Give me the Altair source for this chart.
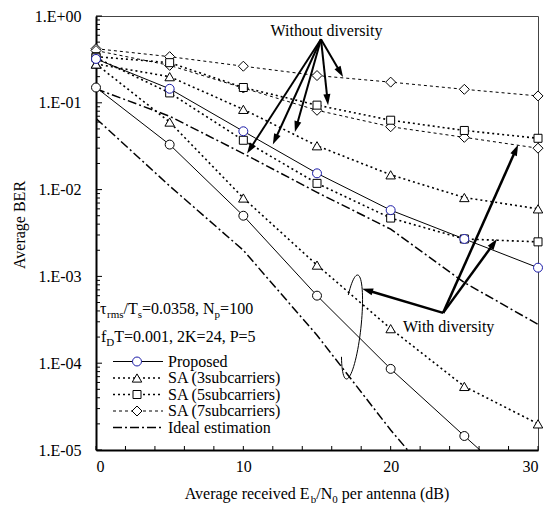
import math
import altair as alt
import pandas as pd

# ---------------- data ----------------
SNR = [0, 5, 10, 15, 20, 25, 30]
PROPOSED_WO = [0.32, 0.145, 0.047, 0.0154, 0.0058, 0.0027, 0.00126]
PROPOSED_WD = [0.15, 0.033, 0.005, 0.0006, 8.6e-5, 1.45e-5, 2.5e-6]
SA3_WO = [0.28, 0.20, 0.084, 0.032, 0.0148, 0.0081, 0.0060]
SA3_WD = [0.28, 0.060, 0.0080, 0.00135, 0.00025, 5.4e-5, 2.0e-5]
SA5_WO = [0.34, 0.29, 0.15, 0.094, 0.063, 0.048, 0.039]
SA5_WD = [0.33, 0.13, 0.037, 0.0118, 0.0047, 0.0027, 0.0025]
SA7_WO = [0.42, 0.34, 0.264, 0.206, 0.173, 0.143, 0.12]
SA7_WD = [0.40, 0.27, 0.148, 0.082, 0.053, 0.040, 0.030]
IDEAL_WO = [0.145, 0.07, 0.026, 0.0093, 0.0035, 0.00085, 0.00028]
IDEAL_WD = [0.066, 0.011, 0.002, 0.00021, 1.7e-5, 1.7e-6, 1.7e-7]

LEGEND_LABELS = ["Proposed", "SA (3subcarriers)", "SA (5subcarriers)",
                 "SA (7subcarriers)", "Ideal estimation"]
X_LABEL_VALUES = [0, 10, 20, 30]
X_TICK_VALUES = list(range(0, 31, 2))
Y_DECADES = [1, 1e-1, 1e-2, 1e-3, 1e-4, 1e-5]
Y_MINOR = [k * 10.0 ** e for e in range(-5, 0) for k in range(2, 10)]

# annotation anchor points (data coordinates)
WO_ORIGIN = (15.27, 0.54)
WO_TIPS = [(10.25, 0.026), (12.0, 0.033), (13.5, 0.046), (15.75, 0.094), (16.77, 0.198)]
WD_ORIGIN = (23.56, 3.8e-4)
WD_TIPS = [(18.06, 7.2e-4), (28.65, 0.0329), (27.22, 0.0027)]

# ---------------- layout / style ----------------
FONT = "Liberation Serif"
W, H = 442, 434
XDOM = [0, 30]
YDOM = [1e-5, 1]
BLUE = "#1c1ca8"

xs = alt.Scale(domain=XDOM, nice=False, zero=False)
ys = alt.Scale(type="log", domain=YDOM, nice=False)
ONE = pd.DataFrame({"k": [0]})

xaxis = alt.Axis(values=X_LABEL_VALUES, ticks=False, grid=False, domain=True,
                 domainColor="black", domainWidth=2, labelFont=FONT, labelFontSize=16,
                 labelColor="black", labelPadding=8, title=None, format="d")
yaxis = alt.Axis(values=Y_DECADES, ticks=False, grid=False, domain=True,
                 domainColor="black", domainWidth=2, labelFont=FONT, labelFontSize=16,
                 labelColor="black", labelPadding=15, title=None,
                 labelExpr="datum.value >= 1 ? '1.E+00' : '1.E-0' + format(-log(datum.value)/LN10, '.0f')")

STYLES = {
    "Proposed": dict(dash=None, width=1.0, shape="circle", size=80),
    "SA3": dict(dash=[2, 3], width=1.6, shape="triangle-up", size=90),
    "SA5": dict(dash=[2, 3], width=1.6, shape="square", size=64),
    "SA7": dict(dash=[3, 3], width=1.0, shape="diamond", size=100),
    "Ideal": dict(dash=[9, 3, 2, 3], width=1.5, shape=None, size=0),
}

SERIES = [
    ("SA7", SA7_WO, "black"), ("SA7", SA7_WD, "black"),
    ("SA5", SA5_WO, "black"), ("SA5", SA5_WD, "black"),
    ("SA3", SA3_WO, "black"), ("SA3", SA3_WD, "black"),
    ("Ideal", IDEAL_WO, "black"), ("Ideal", IDEAL_WD, "black"),
    ("Proposed", PROPOSED_WO, BLUE), ("Proposed", PROPOSED_WD, "black"),
]

def X(field):
    return alt.X(field, type="quantitative", scale=xs, axis=xaxis)

def Y(field):
    return alt.Y(field, type="quantitative", scale=ys, axis=yaxis)

layers = []

# inside ticks
layers.append(alt.Chart(pd.DataFrame({"v": Y_DECADES})).mark_rule(color="black", strokeWidth=1).encode(
    y=Y("v"), x=alt.value(0), x2=alt.value(6)))
layers.append(alt.Chart(pd.DataFrame({"v": Y_MINOR})).mark_rule(color="black", strokeWidth=1).encode(
    y=Y("v"), x=alt.value(0), x2=alt.value(4)))
layers.append(alt.Chart(pd.DataFrame({"v": X_TICK_VALUES})).mark_rule(color="black", strokeWidth=1).encode(
    x=X("v"), y=alt.value(H), y2=alt.value(H - 4)))

# curves
for key, vals, col in SERIES:
    st = STYLES[key]
    df = pd.DataFrame({"snr": SNR, "ber": vals})
    kw = dict(color="black", strokeWidth=st["width"], clip=True)
    if st["dash"]:
        kw["strokeDash"] = st["dash"]
    layers.append(alt.Chart(df).mark_line(**kw).encode(x=X("snr"), y=Y("ber")))
for key, vals, col in SERIES:
    st = STYLES[key]
    if not st["shape"]:
        continue
    df = pd.DataFrame({"snr": SNR, "ber": vals})
    df = df[df["ber"] >= YDOM[0]]
    layers.append(alt.Chart(df).mark_point(shape=st["shape"], size=st["size"], filled=True,
                                           fill="white", stroke=col, strokeWidth=1, opacity=1).encode(
        x=X("snr"), y=Y("ber")))

# ---------------- annotations ----------------
def to_px(x, y):
    return x / 30 * W, -math.log10(y) / 5 * H

def to_data(px, py):
    return px / W * 30, 10 ** (-py / H * 5)

ARROW_PATH = "M0,0L-0.32,1L0.32,1Z"

def arrows(origin, tips, width):
    ox, oy = to_px(*origin)
    segs, heads = [], []
    for t in tips:
        tx, ty = to_px(*t)
        dx, dy = tx - ox, ty - oy
        L = math.hypot(dx, dy)
        ex, ey = tx - dx / L * 7, ty - dy / L * 7
        x1, y1 = to_data(ex, ey)
        segs.append({"x0": origin[0], "y0": origin[1], "x1": x1, "y1": y1})
        ang = (math.degrees(math.atan2(dx, -dy)) + 360) % 360
        heads.append({"x": t[0], "y": t[1], "ang": ang})
    out = [alt.Chart(pd.DataFrame(segs)).mark_rule(color="black", strokeWidth=width).encode(
        x=X("x0"), y=Y("y0"), x2="x1:Q", y2="y1:Q")]
    out.append(alt.Chart(pd.DataFrame(heads)).mark_point(shape=ARROW_PATH, size=484, filled=True,
                                                         color="black", opacity=1, strokeWidth=0).encode(
        x=X("x"), y=Y("y"), angle=alt.Angle("ang:Q", scale=None)))
    return out

layers += arrows(WO_ORIGIN, WO_TIPS, 2)
layers += arrows(WD_ORIGIN, WD_TIPS, 2.5)

# ellipse grouping the "with diversity" proposed/ideal curves
ell = []
n = 60
for i in range(n + 1):
    t = math.radians(142 - (142 + 145) * i / n)
    px = 256 + 9 * math.cos(t) + 5.5 * math.sin(t)
    py = 311 - 52 * math.sin(t)
    xd, yd = to_data(px, py)
    ell.append({"x": xd, "y": yd, "o": i})
layers.append(alt.Chart(pd.DataFrame(ell)).mark_line(color="black", strokeWidth=1).encode(
    x=X("x"), y=Y("y"), order="o:Q"))

# text with subscripts
CW = {' ': .25, 'A': .722, 'B': .667, 'D': .722, 'E': .611, 'K': .722, 'N': .722, 'P': .556,
      'T': .611, 'R': .667, 'W': .944, 'a': .444, 'b': .5, 'c': .444, 'd': .5, 'e': .444,
      'f': .333, 'g': .5, 'h': .5, 'i': .278, 'l': .278, 'm': .778, 'n': .5, 'o': .5, 'p': .5,
      'r': .333, 's': .389, 't': .278, 'u': .5, 'v': .5, 'y': .5, '(': .333, ')': .333,
      '/': .278, '=': .564, '.': .25, ',': .25, 'τ': .44}

def tw(s, size):
    return sum(CW.get(c, .5) for c in s) * size

def rich(pieces, x0, y0, center=False):
    total = sum(tw(t, s) for t, s, _ in pieces)
    off = -total / 2 if center else 0
    out = []
    for t, s, dy in pieces:
        lead = len(t) - len(t.lstrip(" "))
        off += lead * CW[' '] * s
        txt = t.lstrip(" ")
        out.append(alt.Chart(ONE).mark_text(text=txt, font=FONT, fontSize=s, align="left",
                                            baseline="alphabetic", color="black").encode(
            x=alt.value(x0 + off), y=alt.value(y0 + dy)))
        off += tw(txt, s)
    return out

layers += rich([("τ", 16, 0), ("rms", 11, 4), ("/T", 16, 0), ("s", 11, 4),
                ("=0.0358, N", 16, 0), ("p", 11, 4), ("=100", 16, 0)], 4, 298)
layers += rich([("f", 16, 0), ("D", 11, 4), ("T=0.001, 2K=24, P=5", 16, 0)], 5, 326)
layers += rich([("Average received E", 16, 0), ("b", 11, 4), ("/N", 16, 0), ("0", 11, 4),
                (" per antenna (dB)", 16, 0)], W / 2, H + 49, center=True)

layers.append(alt.Chart(ONE).mark_text(text="Average BER", font=FONT, fontSize=16, angle=270,
                                       align="center", baseline="middle", color="black").encode(
    x=alt.value(-76), y=alt.value(209)))
layers.append(alt.Chart(ONE).mark_text(text="Without diversity", font=FONT, fontSize=16,
                                       align="center", baseline="middle", color="black").encode(
    x=alt.value(230.5), y=alt.value(15)))
layers.append(alt.Chart(ONE).mark_text(text="With diversity", font=FONT, fontSize=16,
                                       align="left", baseline="middle", color="black").encode(
    x=alt.value(307), y=alt.value(311)))

# custom legend
LEG_KEYS = ["Proposed", "SA3", "SA5", "SA7", "Ideal"]
LEG_ROWS = [345.5, 362, 378.5, 395, 411.5]
for lab, key, ry in zip(LEGEND_LABELS, LEG_KEYS, LEG_ROWS):
    st = STYLES[key]
    kw = dict(color="black", strokeWidth=st["width"])
    if st["dash"]:
        kw["strokeDash"] = st["dash"]
    layers.append(alt.Chart(ONE).mark_rule(**kw).encode(
        x=alt.value(17), x2=alt.value(67), y=alt.value(ry)))
    if st["shape"]:
        col = BLUE if key == "Proposed" else "black"
        layers.append(alt.Chart(ONE).mark_point(shape=st["shape"], size=st["size"], filled=True,
                                                fill="white", stroke=col, strokeWidth=1,
                                                opacity=1).encode(
            x=alt.value(41), y=alt.value(ry)))
    layers.append(alt.Chart(ONE).mark_text(text=lab, font=FONT, fontSize=16, align="left",
                                           baseline="middle", color="black").encode(
        x=alt.value(72), y=alt.value(ry)))

chart = alt.layer(*layers).properties(
    width=W, height=H,
    padding={"left": 88, "top": 8, "right": 8, "bottom": 62},
    autosize=alt.AutoSizeParams(type="none"),
    background="white",
).configure_view(stroke="#444", strokeWidth=1)

chart.save("out.html", embed_options={"renderer": "svg", "actions": False})
